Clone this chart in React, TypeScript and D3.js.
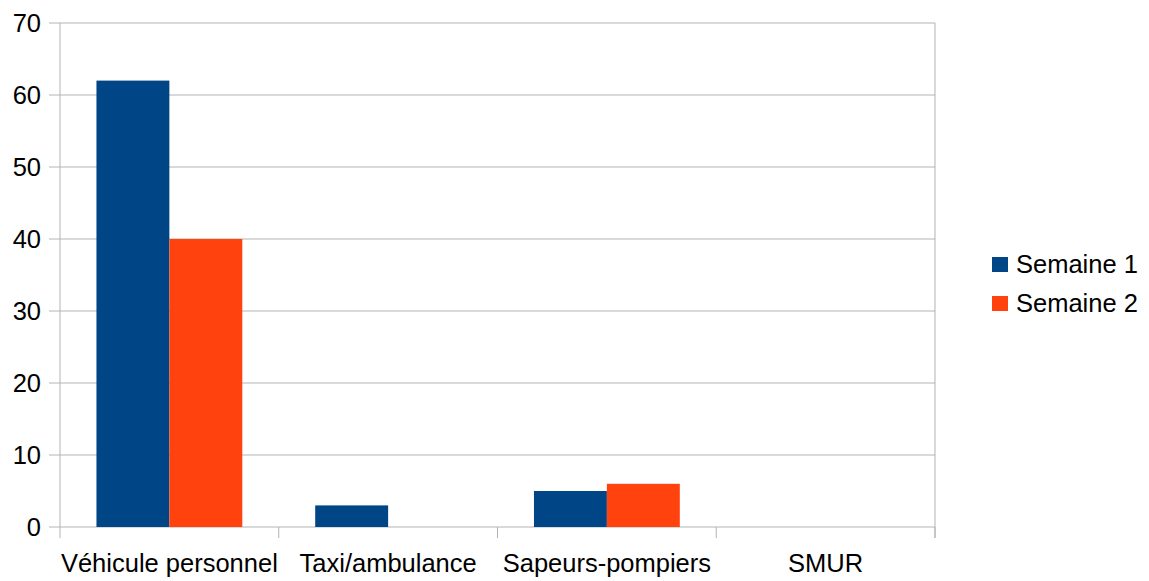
import React from "react";
import * as d3 from "d3";

const categories = ["Véhicule personnel", "Taxi/ambulance", "Sapeurs-pompiers", "SMUR"];
const seriesNames = ["Semaine 1", "Semaine 2"];
const semaine1 = [62, 3, 5, 0];
const semaine2 = [40, 0, 6, 0];
const yTicks = [0, 10, 20, 30, 40, 50, 60, 70];
const colors = ["#004586", "#ff420e"];

export default function App() {
  const W = 1149, H = 581;
  const left = 60, right = 935, top = 23, bottom = 527;
  const x = d3.scaleBand<string>().domain(categories).range([left, right]);
  const y = d3.scaleLinear().domain([0, 70]).range([bottom, top]);
  const bw = x.bandwidth();
  const sub = d3.scaleBand<string>().domain(seriesNames).range([bw / 6, bw * 5 / 6]);
  const series = [semaine1, semaine2];
  const grid = "#b3b3b3";
  const font = "'Liberation Sans', Arial, sans-serif";
  return (
    <svg width={W} height={H} style={{ position: "absolute", left: 0, top: 0 }} fontFamily={font}>
      <rect width={W} height={H} fill="#fff" />
      {yTicks.map((t) => (
        <g key={t}>
          <line x1={49} x2={right} y1={y(t)} y2={y(t)} stroke={grid} strokeWidth={1} />
          <text x={41} y={y(t)} dy="0.35em" textAnchor="end" fontSize={25.5} fill="#000">{t}</text>
        </g>
      ))}
      <line x1={left} x2={left} y1={top} y2={538} stroke={grid} />
      <line x1={right} x2={right} y1={top} y2={538} stroke={grid} />
      {categories.map((c, i) => (
        <line key={"t" + i} x1={x(c)! + bw} x2={x(c)! + bw} y1={bottom} y2={538} stroke={grid} />
      ))}
      {series.map((vals, si) =>
        vals.map((v, i) => (
          <rect
            key={si + "-" + i}
            x={x(categories[i])! + sub(seriesNames[si])!}
            width={sub.bandwidth()}
            y={y(v)}
            height={bottom - y(v)}
            fill={colors[si]}
          />
        ))
      )}
      {categories.map((c) => (
        <text key={c} x={x(c)! + bw / 2} y={572} textAnchor="middle" fontSize={25.5} fill="#000">{c}</text>
      ))}
      {seriesNames.map((s, i) => (
        <g key={s}>
          <rect x={992} y={257 + i * 39} width={16} height={15} fill={colors[i]} />
          <text x={1016} y={273 + i * 39} fontSize={25.5} fill="#000">{s}</text>
        </g>
      ))}
    </svg>
  );
}
